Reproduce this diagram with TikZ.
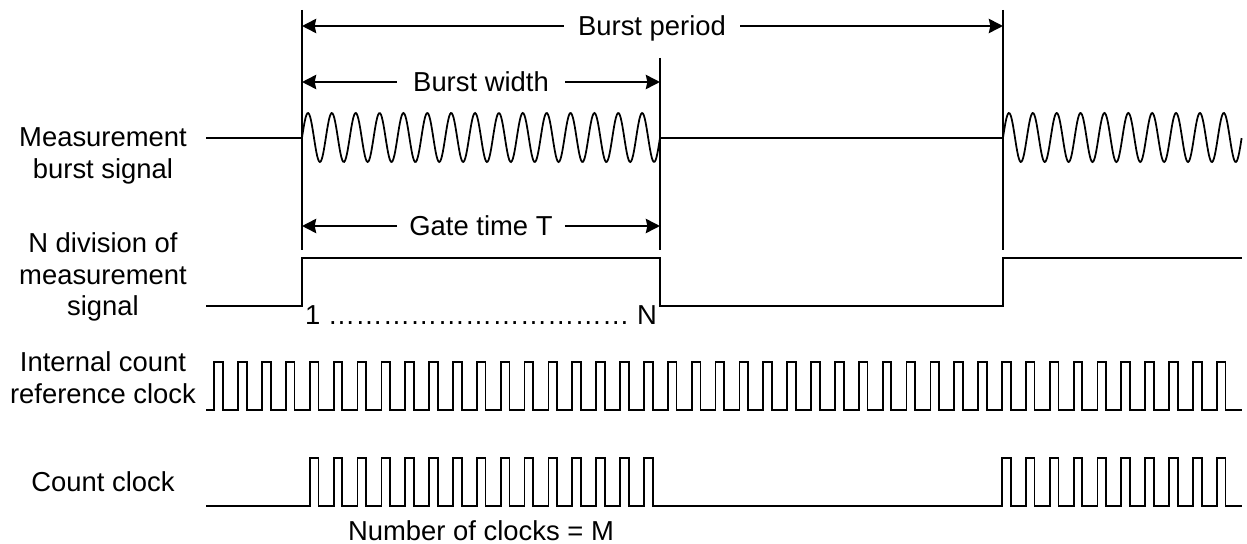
\documentclass[tikz,border=0pt]{standalone}
\usepackage{fontspec}
\setmainfont{Liberation Sans}
\usetikzlibrary{arrows.meta}
\tikzset{
  lbl/.style={font=\fontsize{15.6}{18.1}\selectfont, align=center, inner sep=0pt},
  span/.style={font=\fontsize{15.6}{18.1}\selectfont, inner ysep=0pt, text height=11.3pt, text depth=0pt},
  guide/.style={line width=0.6pt},
  dim/.style={line width=1.6pt, -{Stealth[length=8pt,width=8pt,inset=0.8pt]}},
  slow/.style={line width=1.6pt, line join=miter},
  wave/.style={line width=1pt},
  clk/.style={line width=1pt, line join=miter}
}
\begin{document}
\begin{tikzpicture}[x=0.02cm, y=-0.02cm]
  \useasboundingbox (0,0) rectangle (1247,544);
  % guide lines
  \coordinate (startT) at (302,10);
  \coordinate (startB) at (302,250);
  \coordinate (endT) at (660,58);
  \coordinate (endB) at (660,250);
  \coordinate (nextT) at (1003,10);
  \coordinate (nextB) at (1003,250);
  \draw[guide] (startT) -- (startB);
  \draw[guide] (endT) -- (endB);
  \draw[guide] (nextT) -- (nextB);
  % spans
  \node[span, inner xsep=14pt*0.567] (period) at (652,26) {Burst period};
  \node[span, inner xsep=16pt*0.567] (width) at (481,82) {Burst width};
  \node[span, inner xsep=12pt*0.567] (gate) at (481,226) {Gate time T};
  \draw[dim] (period.west) -- (period.west -| startT);
  \draw[dim] (period.east) -- (period.east -| nextT);
  \draw[dim] (width.west) -- (width.west -| startT);
  \draw[dim] (width.east) -- (width.east -| endT);
  \draw[dim] (gate.west) -- (gate.west -| startT);
  \draw[dim] (gate.east) -- (gate.east -| endT);
  % burst signal
  \node[lbl] (burstlbl) at (103,156) {Measurement\\burst signal};
  \draw[slow] (206,138) -- (302,138);
  \draw[wave] plot[domain=0:15, samples=400] ({302+23.87*\x},{137.5-24.5*sin(360*\x)});
  \draw[slow] (660,138) -- (1003,138);
  \draw[wave] plot[domain=0:10, samples=300] ({1003+23.87*\x},{137.5-24.5*sin(360*\x)});
  % divided signal
  \node[lbl] (divlbl) at (103,277) {N division of\\measurement\\signal};
  \draw[slow] (206,306) -- (302,306) -- (302,258) -- (660,258) -- (660,306)
    -- (1003,306) -- (1003,258) -- (1242,258);
  \node[lbl, anchor=base] (ticks) at (481,324) {1 \foreach \i in {1,...,11}{…} N};
  % reference clock
  \node[lbl] (reflbl) at (103,378) {Internal count\\reference clock};
  \draw[clk] (206,410) \foreach \n in {0,...,42} {
      -- ({214.3+23.87*\n},410) -- ++(0,-48) -- ++(8.7,0) -- ++(0,48)
    } -- (1242,410);
  % count clock
  \node[lbl] (countlbl) at (103,482) {Count clock};
  \draw[clk] (206,506) \foreach \n in {4,...,18} {
      -- ({214.3+23.87*\n},506) -- ++(0,-48) -- ++(8.7,0) -- ++(0,48)
    } \foreach \n in {33,...,42} {
      -- ({214.3+23.87*\n},506) -- ++(0,-48) -- ++(8.7,0) -- ++(0,48)
    } -- (1242,506);
  \node[lbl, anchor=base] (clocks) at (481,540) {Number of clocks = M};
\end{tikzpicture}
\end{document}
